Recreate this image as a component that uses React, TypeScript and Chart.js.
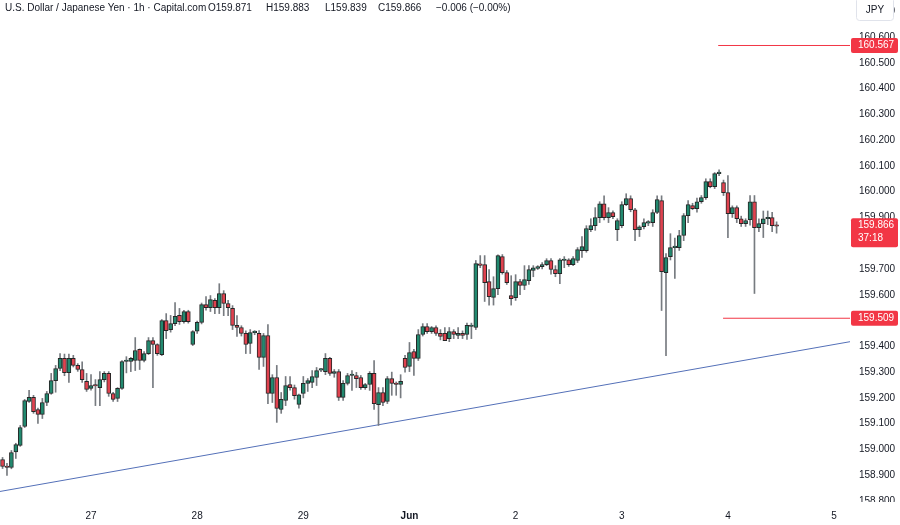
import React, { useEffect, useRef } from "react";
import { Chart, registerables } from "chart.js";
Chart.register(...registerables);

// ---- data (USD/JPY, 1h candles) ----
const opens = [
  158.961, 158.934, 158.930, 158.990, 159.016, 159.089, 159.186, 159.202, 159.155, 159.136,
  159.182, 159.217, 159.267, 159.314, 159.353, 159.298, 159.353, 159.326, 159.310, 159.264,
  159.237, 159.248, 159.240, 159.271, 159.295, 159.217, 159.198, 159.237, 159.341, 159.341,
  159.345, 159.388, 159.345, 159.372, 159.422, 159.407, 159.368, 159.500, 159.465, 159.488,
  159.520, 159.496, 159.535, 159.407, 159.459, 159.493, 159.562, 159.550, 159.578, 159.550,
  159.605, 159.566, 159.547, 159.481, 159.473, 159.450, 159.411, 159.453, 159.450, 159.357,
  159.442, 159.217, 159.279, 159.155, 159.190, 159.252, 159.240, 159.175, 159.217, 159.256,
  159.260, 159.279, 159.308, 159.302, 159.353, 159.295, 159.302, 159.202, 159.256, 159.287,
  159.287, 159.279, 159.240, 159.252, 159.295, 159.174, 159.221, 159.186, 159.275, 159.256,
  159.252, 159.353, 159.322, 159.380, 159.353, 159.446, 159.477, 159.457, 159.473, 159.450,
  159.450, 159.430, 159.457, 159.442, 159.450, 159.446, 159.477, 159.473, 159.718, 159.717,
  159.651, 159.590, 159.624, 159.748, 159.686, 159.597, 159.589, 159.651, 159.636, 159.655,
  159.694, 159.702, 159.709, 159.717, 159.733, 159.698, 159.682, 159.733, 159.736, 159.717,
  159.733, 159.771, 159.771, 159.853, 159.868, 159.899, 159.953, 159.899, 159.919, 159.853,
  159.868, 159.950, 159.973, 159.930, 159.853, 159.864, 159.878, 159.880, 159.919, 159.965,
  159.686, 159.748, 159.783, 159.783, 159.830, 159.907, 159.946, 159.934, 159.961, 159.977,
  160.039, 160.019, 160.070, 160.035, 159.996, 159.915, 159.938, 159.895, 159.876, 159.891,
  159.961, 159.860, 159.876, 159.895, 159.899, 159.871,
];
const highs = [
  158.969, 158.946, 158.996, 159.024, 159.093, 159.194, 159.229, 159.210, 159.160, 159.198,
  159.225, 159.295, 159.326, 159.372, 159.370, 159.370, 159.365, 159.333, 159.340, 159.295,
  159.290, 159.271, 159.302, 159.302, 159.302, 159.222, 159.240, 159.345, 159.360, 159.357,
  159.434, 159.390, 159.380, 159.434, 159.434, 159.410, 159.504, 159.527, 159.520, 159.570,
  159.547, 159.540, 159.540, 159.461, 159.498, 159.568, 159.593, 159.597, 159.585, 159.643,
  159.616, 159.578, 159.558, 159.519, 159.480, 159.460, 159.465, 159.461, 159.461, 159.450,
  159.484, 159.290, 159.326, 159.221, 159.283, 159.283, 159.250, 159.215, 159.283, 159.275,
  159.306, 159.318, 159.314, 159.372, 159.357, 159.310, 159.310, 159.267, 159.295, 159.306,
  159.299, 159.287, 159.256, 159.302, 159.345, 159.240, 159.240, 159.283, 159.300, 159.262,
  159.290, 159.365, 159.415, 159.388, 159.465, 159.488, 159.488, 159.477, 159.480, 159.465,
  159.473, 159.473, 159.465, 159.473, 159.460, 159.490, 159.490, 159.733, 159.752, 159.752,
  159.698, 159.670, 159.755, 159.756, 159.694, 159.674, 159.678, 159.660, 159.713, 159.713,
  159.713, 159.713, 159.725, 159.740, 159.740, 159.713, 159.740, 159.748, 159.740, 159.748,
  159.783, 159.826, 159.868, 159.895, 159.938, 159.961, 159.984, 159.938, 159.926, 159.895,
  159.961, 159.992, 159.984, 159.935, 159.868, 159.895, 159.888, 159.930, 159.984, 159.984,
  159.760, 159.837, 159.820, 159.850, 159.915, 159.965, 159.955, 159.975, 159.985, 160.050,
  160.050, 160.074, 160.085, 160.045, 160.062, 159.945, 159.945, 159.905, 159.895, 159.985,
  159.985, 159.895, 159.925, 159.925, 159.920, 159.883,
];
const lows = [
  158.926, 158.899, 158.925, 158.965, 159.012, 159.085, 159.182, 159.140, 159.101, 159.120,
  159.170, 159.214, 159.222, 159.306, 159.286, 159.260, 159.320, 159.303, 159.260, 159.225,
  159.230, 159.170, 159.170, 159.262, 159.206, 159.186, 159.186, 159.233, 159.297, 159.302,
  159.306, 159.310, 159.340, 159.368, 159.240, 159.365, 159.364, 159.430, 159.455, 159.480,
  159.485, 159.490, 159.490, 159.403, 159.450, 159.487, 159.540, 159.535, 159.527, 159.527,
  159.519, 159.519, 159.465, 159.438, 159.440, 159.372, 159.372, 159.445, 159.310, 159.322,
  159.178, 159.182, 159.105, 159.140, 159.170, 159.230, 159.195, 159.160, 159.200, 159.225,
  159.240, 159.248, 159.302, 159.290, 159.287, 159.280, 159.190, 159.190, 159.250, 159.229,
  159.240, 159.233, 159.233, 159.229, 159.155, 159.093, 159.170, 159.178, 159.210, 159.210,
  159.200, 159.300, 159.302, 159.287, 159.345, 159.440, 159.450, 159.450, 159.442, 159.425,
  159.422, 159.418, 159.430, 159.430, 159.430, 159.427, 159.430, 159.465, 159.705, 159.574,
  159.560, 159.560, 159.600, 159.680, 159.640, 159.560, 159.578, 159.600, 159.620, 159.640,
  159.670, 159.698, 159.700, 159.713, 159.680, 159.670, 159.643, 159.705, 159.710, 159.713,
  159.725, 159.745, 159.765, 159.845, 159.850, 159.880, 159.890, 159.880, 159.895, 159.810,
  159.860, 159.946, 159.922, 159.810, 159.826, 159.855, 159.868, 159.865, 159.915, 159.539,
  159.364, 159.735, 159.663, 159.772, 159.810, 159.880, 159.930, 159.920, 159.955, 159.970,
  160.015, 160.012, 160.062, 159.985, 159.822, 159.900, 159.880, 159.865, 159.865, 159.870,
  159.605, 159.845, 159.822, 159.872, 159.845, 159.839,
];
const closes = [
  158.934, 158.930, 158.988, 159.019, 159.085, 159.190, 159.202, 159.147, 159.136, 159.182,
  159.217, 159.267, 159.314, 159.353, 159.298, 159.353, 159.326, 159.310, 159.271, 159.233,
  159.248, 159.246, 159.271, 159.295, 159.217, 159.194, 159.237, 159.341, 159.345, 159.353,
  159.384, 159.345, 159.372, 159.422, 159.407, 159.372, 159.500, 159.461, 159.488, 159.516,
  159.496, 159.535, 159.496, 159.457, 159.493, 159.562, 159.550, 159.581, 159.550, 159.605,
  159.566, 159.550, 159.481, 159.473, 159.450, 159.407, 159.453, 159.457, 159.357, 159.442,
  159.217, 159.279, 159.159, 159.194, 159.248, 159.240, 159.209, 159.212, 159.256, 159.267,
  159.283, 159.306, 159.310, 159.353, 159.295, 159.302, 159.202, 159.256, 159.287, 159.290,
  159.275, 159.240, 159.252, 159.295, 159.178, 159.221, 159.182, 159.275, 159.256, 159.252,
  159.264, 159.318, 159.376, 159.353, 159.446, 159.477, 159.457, 159.473, 159.450, 159.438,
  159.422, 159.457, 159.446, 159.450, 159.442, 159.481, 159.481, 159.721, 159.714, 159.647,
  159.593, 159.624, 159.752, 159.686, 159.647, 159.585, 159.651, 159.636, 159.659, 159.698,
  159.705, 159.709, 159.717, 159.733, 159.698, 159.682, 159.736, 159.736, 159.717, 159.740,
  159.775, 159.787, 159.857, 159.868, 159.899, 159.953, 159.899, 159.919, 159.903, 159.888,
  159.950, 159.973, 159.930, 159.853, 159.864, 159.880, 159.880, 159.919, 159.969, 159.690,
  159.744, 159.783, 159.787, 159.830, 159.907, 159.950, 159.934, 159.961, 159.977, 160.039,
  160.019, 160.070, 160.074, 159.996, 159.915, 159.938, 159.895, 159.876, 159.888, 159.961,
  159.860, 159.876, 159.895, 159.899, 159.868, 159.866,
];

// day boundaries (candle index) and their labels
const dayTickIndex = [20, 44, 68, 92, 116, 140, 164, 188];
const dayTickLabels = ["27", "28", "29", "Jun", "2", "3", "4", "5"];

// visible range
const xRange = [-0.577, 191.6];
const yRange = [158.7845, 160.7435];

// drawings
const trendIdx = [-0.577, 191.6];
const trendPrice = [158.837, 159.418];
const upperLevel = 160.567;
const upperLevelFrom = 161.8;
const lowerLevel = 159.509;
const lowerLevelFrom = 162.9;
const lastPrice = 159.866;
const countdown = "37:18";

// header
const headerTitle = "U.S. Dollar / Japanese Yen · 1h · Capital.com";
const headerValues = ["O159.871", "H159.883", "L159.839", "C159.866", "−0.006 (−0.00%)"];
const headerValueLeft = [208, 266, 325, 378, 436];

const GREEN = "#22896f";
const RED = "#e0424f";
const BORDER = "#262626";
const WICK = "#777b80";
const LEVEL = "#f23645";
const FONT = "'Liberation Sans', Arial, sans-serif";

export default function App() {
  const ref = useRef<HTMLCanvasElement | null>(null);

  useEffect(() => {
    const canvas = ref.current;
    if (!canvas) return;
    const idx = opens.map((_, i) => i);
    const isUp = (i: number) => closes[i] >= opens[i];

    const labelPlugin = {
      id: "priceLabels",
      afterDraw(chart: any) {
        const { ctx, scales } = chart;
        const y = scales.y;
        const right = chart.chartArea.right;
        const bottom = chart.chartArea.bottom;
        // time-axis strip covers the lowest price label partly
        ctx.save();
        ctx.fillStyle = "#ffffff";
        ctx.fillRect(right, bottom - 3, 900 - right, 525 - bottom + 3);
        ctx.restore();
        const drawBox = (price: number, lines: string[]) => {
          const py = y.getPixelForValue(price);
          const h = lines.length === 1 ? 15 : 29;
          const top = lines.length === 1 ? py - 7.5 : py - 8;
          ctx.save();
          ctx.fillStyle = LEVEL;
          ctx.beginPath();
          (ctx as any).roundRect(right + 1, top, 47, h, 2);
          ctx.fill();
          ctx.fillStyle = "#ffffff";
          ctx.font = `10px ${FONT}`;
          ctx.textBaseline = "middle";
          ctx.textAlign = "left";
          lines.forEach((t, k) => ctx.fillText(t, right + 8, top + 7.5 + k * 13));
          ctx.restore();
        };
        drawBox(upperLevel, [upperLevel.toFixed(3)]);
        drawBox(lastPrice, [lastPrice.toFixed(3), countdown]);
        drawBox(lowerLevel, [lowerLevel.toFixed(3)]);
        // currency box
        ctx.save();
        ctx.fillStyle = "#ffffff";
        ctx.strokeStyle = "#e0e3eb";
        ctx.lineWidth = 1;
        ctx.beginPath();
        (ctx as any).roundRect(856.5, -2.5, 37, 23, 3);
        ctx.fill();
        ctx.stroke();
        ctx.fillStyle = "#131722";
        ctx.font = `10px ${FONT}`;
        ctx.textBaseline = "middle";
        ctx.textAlign = "center";
        ctx.fillText("JPY", 875, 10);
        ctx.restore();
      },
    };

    const chart = new Chart(canvas, {
      type: "bar",
      data: {
        datasets: [
          {
            type: "bar",
            label: "body",
            data: idx.map((i) => ({ x: i, y: [opens[i], closes[i]] })) as any,
            backgroundColor: idx.map((i) => (isUp(i) ? GREEN : RED)),
            borderColor: BORDER,
            borderWidth: 1,
            borderSkipped: false,
            barThickness: 4,
            minBarLength: 1.5,
            grouped: false,
            order: 0,
          } as any,
          {
            type: "bar",
            label: "wick",
            data: idx.map((i) => ({ x: i, y: [lows[i], highs[i]] })) as any,
            backgroundColor: WICK,
            borderWidth: 0,
            barThickness: 1,
            grouped: false,
            order: 1,
          } as any,
          {
            type: "line",
            label: "trend",
            data: trendIdx.map((x, k) => ({ x, y: trendPrice[k] })),
            borderColor: "#5470b8",
            borderWidth: 1,
            pointRadius: 0,
            order: 2,
          } as any,
          {
            type: "line",
            label: "upper",
            data: [
              { x: upperLevelFrom, y: upperLevel },
              { x: xRange[1], y: upperLevel },
            ],
            borderColor: LEVEL,
            borderWidth: 1,
            pointRadius: 0,
            order: 2,
          } as any,
          {
            type: "line",
            label: "lower",
            data: [
              { x: lowerLevelFrom, y: lowerLevel },
              { x: xRange[1], y: lowerLevel },
            ],
            borderColor: LEVEL,
            borderWidth: 1,
            pointRadius: 0,
            order: 2,
          } as any,
        ],
      },
      options: {
        animation: false,
        responsive: false,
        devicePixelRatio: 1,
        layout: { padding: 0 },
        plugins: { legend: { display: false }, tooltip: { enabled: false }, title: { display: false } },
        scales: {
          x: {
            type: "linear",
            offset: false,
            min: xRange[0],
            max: xRange[1],
            grid: { display: false, drawTicks: false },
            border: { display: false },
            afterBuildTicks: (s: any) => {
              s.ticks = dayTickIndex.map((v) => ({ value: v }));
            },
            afterFit: (s: any) => {
              s.height = 20;
              s.paddingLeft = 0;
              s.paddingRight = 0;
            },
            ticks: {
              autoSkip: false,
              maxRotation: 0,
              padding: 5,
              color: "#131722",
              font: (c: any) => ({
                size: 10,
                family: FONT,
                weight: c.tick && c.tick.value === dayTickIndex[3] ? "bold" : "normal",
              }),
              callback: (v: any) => {
                const k = dayTickIndex.indexOf(Number(v));
                return k >= 0 ? dayTickLabels[k] : "";
              },
            },
          },
          y: {
            type: "linear",
            position: "right",
            beginAtZero: false,
            min: yRange[0],
            max: yRange[1],
            grid: { display: false, drawTicks: false },
            border: { display: false },
            afterFit: (s: any) => {
              s.width = 50;
              s.paddingTop = 0;
              s.paddingBottom = 0;
            },
            ticks: {
              stepSize: 0.1,
              includeBounds: false,
              padding: 9,
              color: "#131722",
              font: { size: 10, family: FONT },
              callback: (v: any) => Number(v).toFixed(3),
            },
          },
        },
      } as any,
      plugins: [labelPlugin],
    });
    return () => chart.destroy();
  }, []);

  const textStyle: React.CSSProperties = {
    position: "absolute",
    top: 2,
    fontFamily: FONT,
    fontSize: 10,
    color: "#131722",
    whiteSpace: "pre",
  };

  return (
    <div
      style={{
        position: "fixed",
        left: 0,
        top: 0,
        width: 900,
        height: 525,
        background: "#ffffff",
        overflow: "hidden",
      }}
    >
      <canvas ref={ref} width={900} height={525} style={{ display: "block" }} />
      <div style={{ ...textStyle, left: 5 }}>{headerTitle}</div>
      {headerValues.map((t, k) => (
        <div key={k} style={{ ...textStyle, left: headerValueLeft[k] }}>
          {t}
        </div>
      ))}
    </div>
  );
}
